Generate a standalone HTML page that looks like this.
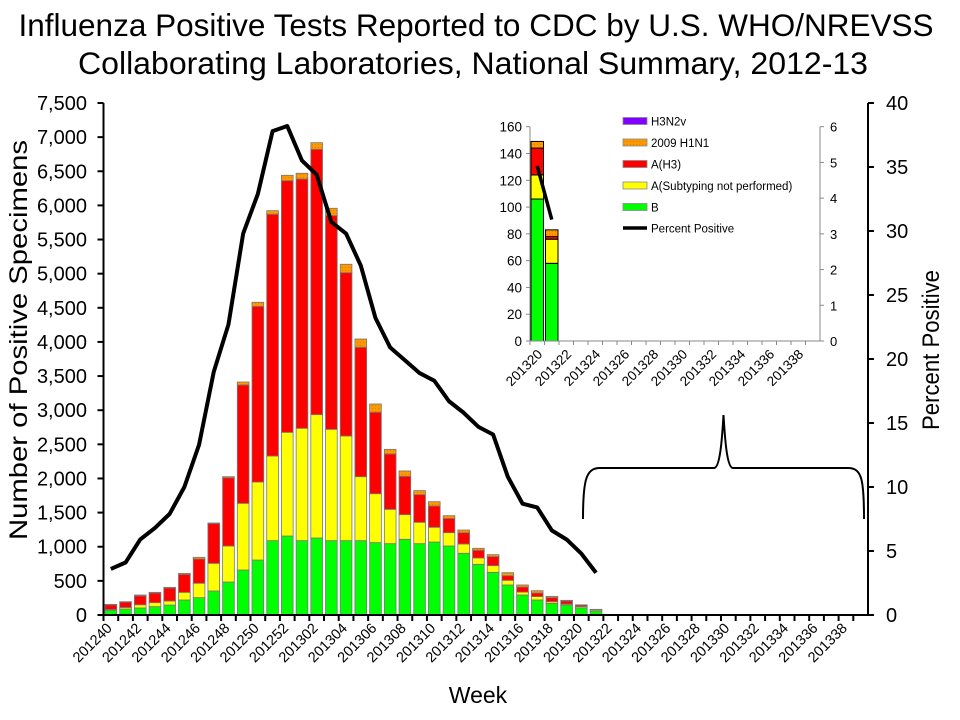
<!DOCTYPE html>
<html><head><meta charset="utf-8"><style>
body{margin:0;background:#fff}
svg{display:block;font-family:"Liberation Sans",Arial,sans-serif}
</style></head><body>
<svg id="chart" width="960" height="720" viewBox="0 0 960 720">
<defs>
<pattern id="dots" width="3" height="3" patternUnits="userSpaceOnUse"><rect width="3" height="3" fill="#FF9900"/><rect width="1" height="1" fill="#E08000"/></pattern>
</defs>
<text x="476" y="36" text-anchor="middle" font-size="31.5" textLength="915" lengthAdjust="spacingAndGlyphs">Influenza Positive Tests Reported to CDC by U.S. WHO/NREVSS</text>
<text x="473" y="74" text-anchor="middle" font-size="31.5" textLength="790" lengthAdjust="spacingAndGlyphs">Collaborating Laboratories, National Summary, 2012-13</text>
<text transform="translate(27,340) rotate(-90)" text-anchor="middle" font-size="25" textLength="400" lengthAdjust="spacingAndGlyphs">Number of Positive Specimens</text>
<text transform="translate(939,350) rotate(-90)" text-anchor="middle" font-size="24" textLength="160" lengthAdjust="spacingAndGlyphs">Percent Positive</text>
<text x="478" y="703" text-anchor="middle" font-size="23">Week</text>
<path d="M583,519 C583,480 586,468 600,468 L714,468 C720,468 722,440 723.5,415 C725,440 727,468 733,468 L848,468 C862,468 864,480 864,519" fill="none" stroke="#000" stroke-width="2"/>
<g id="main"></g>
<g id="inset"></g>
</svg>
<script>
const weeks = ["201240","201241","201242","201243","201244","201245","201246","201247","201248","201249","201250","201251","201252","201301","201302","201303","201304","201305","201306","201307","201308","201309","201310","201311","201312","201313","201314","201315","201316","201317","201318","201319","201320","201321","201322","201323","201324","201325","201326","201327","201328","201329","201330","201331","201332","201333","201334","201335","201336","201337","201338","201339"];
const seriesB =      [70,88,103,122,146,220,254,352,483,659,805,1089,1157,1089,1128,1089,1089,1089,1060,1045,1109,1045,1069,1011,904,742,625,440,293,220,171,146,106,58];
const seriesAUnsub = [10,22,47,59,59,112,211,405,527,977,1143,1240,1519,1646,1807,1631,1533,937,717,503,361,313,216,195,136,93,98,68,43,50,24,14,18,18];
const seriesH3 =     [70,80,130,141,190,263,355,581,1000,1734,2574,3541,3686,3652,3887,3130,2393,1896,1193,811,562,405,312,210,166,113,132,68,74,52,59,45,20,2];
const seriesH1N1 =   [5,5,13,10,10,15,25,10,16,43,59,53,79,84,97,108,123,121,121,68,78,59,63,39,39,29,29,44,30,34,19,10,5,5];
const seriesH3N2v =  [0,0,0,0,0,0,0,0,0,0,0,0,0,0,0,0,0,0,0,0,0,0,0,0,0,0,0,0,0,0,0,0,0,0];
const pctPositive =  [3.6,4.1,5.9,6.8,7.9,10.0,13.3,19.0,22.7,29.8,32.9,37.8,38.2,35.5,34.4,30.7,29.8,27.3,23.2,20.9,19.9,18.9,18.3,16.7,15.8,14.7,14.1,10.8,8.7,8.4,6.6,5.9,4.8,3.3];
const leftTicks = [0,500,1000,1500,2000,2500,3000,3500,4000,4500,5000,5500,6000,6500,7000,7500];
const rightTicks = [0,5,10,15,20,25,30,35,40];
const insetWeeks = ["201320","201321","201322","201323","201324","201325","201326","201327","201328","201329","201330","201331","201332","201333","201334","201335","201336","201337","201338","201339"];
const insetB = [106,58];
const insetAUnsub = [18,18];
const insetH3 = [20,2];
const insetH1N1 = [5,5];
const insetH3N2v = [0,0];
const insetPct = [4.9,3.4];
const insetLeftTicks = [0,20,40,60,80,100,120,140,160];
const insetRightTicks = [0,1,2,3,4,5,6];

const NS = "http://www.w3.org/2000/svg";
function mk(parent, tag, attrs, text){const e=document.createElementNS(NS,tag);for(const k in attrs)e.setAttribute(k,attrs[k]);if(text!==undefined)e.textContent=text;parent.appendChild(e);return e;}
const colors = {B:"#00FF00",U:"#FFFF00",H3:"#FF0000",H1:"url(#dots)",V:"#7F00FF"};

const X0=103.5, X1=868, Y0=615, Y1=103;
const step=(X1-X0)/weeks.length;
const xs=i=>X0+i*step;
const yL=v=>Y0-(v/7500)*(Y0-Y1);
const yR=v=>Y0-(v/40)*(Y0-Y1);
const main=document.getElementById('main');

for(let i=0;i<seriesB.length;i++){
  const segs=[["B",seriesB[i]],["U",seriesAUnsub[i]],["H3",seriesH3[i]],["H1",seriesH1N1[i]],["V",seriesH3N2v[i]]];
  let base=0;
  for(const [k,v] of segs){
    if(v<=0)continue;
    const r=mk(main,'rect',{x:xs(i)+1.5,y:yL(base+v),width:step-3,height:yL(base)-yL(base+v),fill:colors[k],stroke:"#777","stroke-width":0.8});
    
    
    base+=v;
  }
}
let d="";
pctPositive.forEach((p,i)=>{d+=(i?"L":"M")+(xs(i)+step/2)+","+yR(p);});
const ln=mk(main,'path',{d:d,fill:"none",stroke:"#000","stroke-width":4,"stroke-linejoin":"round"});



const ax=mk(main,'path',{d:`M${X0},${Y1}V${Y0}H${X1}V${Y1}`,fill:"none",stroke:"#000","stroke-width":2});


leftTicks.forEach(v=>{
  mk(main,'line',{x1:X0-6,x2:X0,y1:yL(v),y2:yL(v),stroke:"#000","stroke-width":2});
  const t=mk(main,'text',{x:87,y:yL(v)+7,"text-anchor":"end","font-size":20},v.toLocaleString('en-US'));
  
  
});
rightTicks.forEach(v=>{
  mk(main,'line',{x1:X1,x2:X1+6,y1:yR(v),y2:yR(v),stroke:"#000","stroke-width":2});
  const t=mk(main,'text',{x:886,y:yR(v)+7,"font-size":20},String(v));
  
  
});
weeks.forEach((w,i)=>{
  mk(main,'line',{x1:xs(i),x2:xs(i),y1:Y0,y2:Y0+6,stroke:"#000","stroke-width":2});
  if(i%2===0){
    const cx=xs(i)+step/2+2, cy=Y0+14;
    const t=mk(main,'text',{x:cx,y:cy,"text-anchor":"end","font-size":14.5,transform:`rotate(-45 ${cx} ${cy})`},w);
    
    
  }
});

const IX0=530, IX1=820, IY0=341, IY1=126.7;
const istep=(IX1-IX0)/insetWeeks.length;
const ixs=i=>IX0+i*istep;
const iyL=v=>IY0-(v/160)*(IY0-IY1);
const iyR=v=>IY0-(v/6)*(IY0-IY1);
const inset=document.getElementById('inset');
for(let i=0;i<insetB.length;i++){
  const segs=[["B",insetB[i]],["U",insetAUnsub[i]],["H3",insetH3[i]],["H1",insetH1N1[i]],["V",insetH3N2v[i]]];
  let base=0;
  for(const [k,v] of segs){
    if(v<=0)continue;
    const r=mk(inset,'rect',{x:ixs(i)+1,y:iyL(base+v),width:istep-2,height:iyL(base)-iyL(base+v),fill:colors[k],stroke:"#000","stroke-width":1});
    
    
    base+=v;
  }
}
let d2="";
insetPct.forEach((p,i)=>{d2+=(i?"L":"M")+(ixs(i)+istep/2)+","+iyR(p);});
const iln=mk(inset,'path',{d:d2,fill:"none",stroke:"#000","stroke-width":3.5});


mk(inset,'path',{d:`M${IX0},${IY1}V${IY0}H${IX1}V${IY1}`,fill:"none",stroke:"#888","stroke-width":1});
insetLeftTicks.forEach(v=>{
  mk(inset,'line',{x1:IX0-4,x2:IX0,y1:iyL(v),y2:iyL(v),stroke:"#888"});
  const t=mk(inset,'text',{x:522,y:iyL(v)+5,"text-anchor":"end","font-size":13.5},String(v));
  
  
});
insetRightTicks.forEach(v=>{
  mk(inset,'line',{x1:IX1,x2:IX1+4,y1:iyR(v),y2:iyR(v),stroke:"#888"});
  const t=mk(inset,'text',{x:IX1+10,y:iyR(v)+5,"font-size":13},String(v));
  
  
});
insetWeeks.forEach((w,i)=>{
  mk(inset,'line',{x1:ixs(i),x2:ixs(i),y1:IY0,y2:IY0+4,stroke:"#888"});
  if(i%2===0){
    const cx=ixs(i)+istep/2+6, cy=IY0+14;
    const t=mk(inset,'text',{x:cx,y:cy,"text-anchor":"end","font-size":13.5,transform:`rotate(-45 ${cx} ${cy})`},w);
    
    
  }
});
const legend=[["H3N2v","V"],["2009 H1N1","H1"],["A(H3)","H3"],["A(Subtyping not performed)","U"],["B","B"],["Percent Positive","L"]];
const ly=[121,142.5,164,185.5,207,228];
legend.forEach(([lab,k],j)=>{
  if(k==="L"){
    mk(inset,'line',{x1:623,x2:647,y1:ly[j],y2:ly[j],stroke:"#000","stroke-width":3.5});
  } else {
    mk(inset,'rect',{x:623,y:ly[j]-3.5,width:24,height:7,fill:colors[k],stroke:"#888","stroke-width":0.8});
  }
  const t=mk(inset,'text',{x:651,y:ly[j]+4.5,"font-size":11.5},lab);
  
  
});
</script>
</body></html>
